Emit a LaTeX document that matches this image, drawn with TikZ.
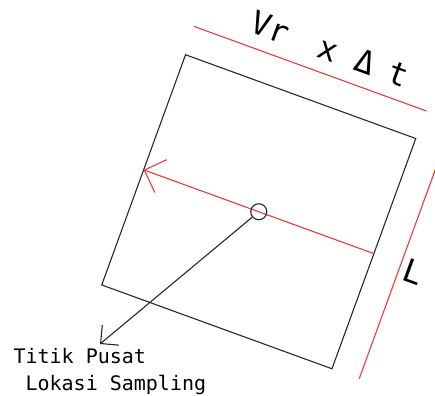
\documentclass[tikz,border=0pt]{standalone}
\usepackage{fontspec}
\newfontfamily\cadfont{DejaVu Sans Mono}
\usetikzlibrary{arrows.meta}
\definecolor{garismerah}{RGB}{228,62,62}
\definecolor{garishitam}{RGB}{40,40,40}
\begin{document}
\begin{tikzpicture}[x=1pt, y=1pt, line width=1.1pt,
  panah/.style={-{Straight Barb[length=13pt, width=26pt]}},
  panahmerah/.style={-{Straight Barb[length=17.5pt, width=35pt]}},
  tulisan/.style={font=\cadfont\fontsize{20}{24}\selectfont, inner sep=0pt, anchor=base west},
  ukuran/.style={font=\cadfont\fontsize{32}{36}\selectfont, inner sep=0pt, rotate=-20}]
 \useasboundingbox (0,0) rectangle (435,-395);
 \begin{scope}[shift={(258.75,-211.75)}, rotate=-20]
 % petak sampling
 \draw[garishitam] (-122.5,122.5) rectangle (122.5,-122.5);
 \coordinate (kanan) at (122.5,0);
 \coordinate (kiri) at (-122.5,0);
 % garis ukuran
 \draw[garismerah] (-124.5,152) -- (123,152);
 \draw[garismerah] (151.5,122.5) -- (151.5,-122.5);
 \node[ukuran, anchor=base west] (vr) at (-72,165.5)
   {Vr\hspace{1.05em}x\hspace{0.6em}Δ\hspace{0.5em}t};
 \node[ukuran] (lebar) at (166,-3) {L};
 % arah aliran
 \draw[garismerah, panahmerah] (kanan) -- (kiri);
 \node[circle, draw=garishitam, minimum size=16, inner sep=0pt] (pusat) at (0,0) {};
 \end{scope}
 \coordinate (titik) at (100,-344);
 \draw[garishitam, panah] (pusat) -- (titik);
 \node[tulisan] (ket1) at (13,-363) {Titik Pusat};
 \node[tulisan] (ket2) at (25,-390) {Lokasi Sampling};
\end{tikzpicture}
\end{document}
